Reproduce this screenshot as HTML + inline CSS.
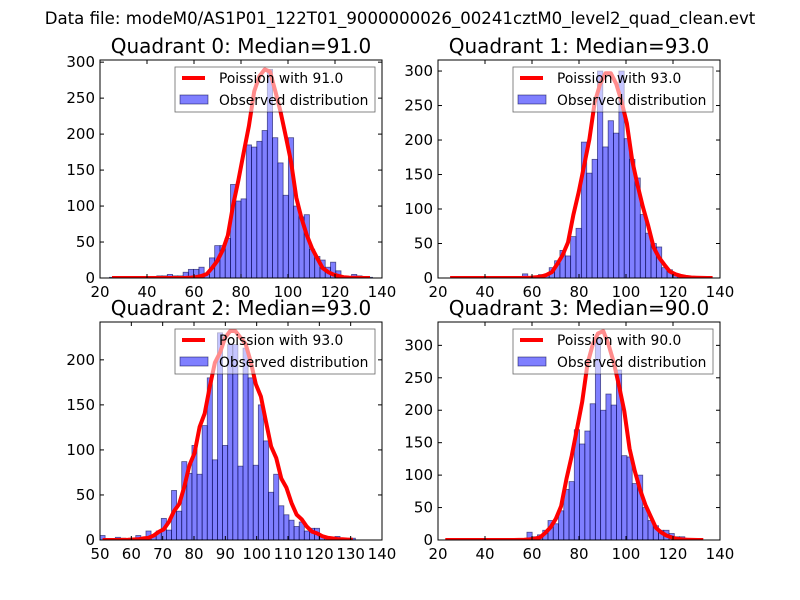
<!DOCTYPE html>
<html><head><meta charset="utf-8"><style>
body{margin:0;background:#fff;}
svg{display:block;font-family:"DejaVu Sans","Liberation Sans",sans-serif;}
</style></head><body>
<svg id="fig" width="800" height="600" viewBox="0 0 800 600">
<rect width="800" height="600" fill="#fff"/>
<text x="400" y="24" text-anchor="middle" font-size="16.6">Data file: modeM0/AS1P01_122T01_9000000026_00241cztM0_level2_quad_clean.evt</text>
</svg>
<script>
// ---- data ----
const quadNames = ["Quadrant 0: Median=91.0","Quadrant 1: Median=93.0","Quadrant 2: Median=93.0","Quadrant 3: Median=90.0"];
const poissonMeans = [91.0, 93.0, 93.0, 90.0];
const curvePeaks = [290, 300, 232, 322];
const binStarts = [24, 24, 50, 22];
const binWidths = [2.24, 2.28, 1.63, 2.24];
const countsQ0 = [1,1,0,0,0,0,0,0,1,3,3,5,3,3,8,12,12,15,5,28,45,45,55,130,107,110,185,182,190,205,290,195,160,115,195,100,85,88,40,30,25,15,22,10,2,0,5,3,1,1];
const countsQ1 = [0,0,0,0,0,0,0,0,1,0,1,0,0,0,6,0,1,5,5,15,25,40,32,60,72,197,152,172,300,190,228,210,300,202,172,145,92,65,50,45,15,12,5,2,1,0,0,0,0,0];
const countsQ2 = [5,0,0,3,2,0,0,5,2,10,5,10,24,11,55,32,87,74,105,73,127,180,89,230,105,217,217,82,213,180,83,150,110,53,73,38,28,22,15,20,10,13,13,5,3,0,4,2,0,2];
const countsQ3 = [0,0,0,0,0,0,0,0,0,0,0,0,2,2,0,0,12,5,8,15,30,25,45,78,90,170,148,168,210,310,200,225,208,262,130,128,87,100,50,30,22,15,15,10,5,5,1,1,0,0];
const allCounts = [countsQ0,countsQ1,countsQ2,countsQ3];
const xTickLabels = [[20,40,60,80,100,120,140],[20,40,60,80,100,120,140],[50,60,70,80,90,100,110,120,130,140],[20,40,60,80,100,120,140]];
const yTickLabels = [[0,50,100,150,200,250,300],[0,50,100,150,200,250,300],[0,50,100,150,200],[0,50,100,150,200,250,300]];
const xLimits = [[20,140],[20,140],[50,140],[20,140]];
const yMaxes = [303,316,242,336];
// ---- layout ----
const boxes = [{l:100,r:382,t:60,b:278},{l:438,r:720,t:60,b:278},{l:100,r:382,t:322,b:540},{l:438,r:720,t:322,b:540}];
const NS="http://www.w3.org/2000/svg";
const svg=document.getElementById('fig');
function mk(tag,attrs,parent){const e=document.createElementNS(NS,tag);for(const k in attrs)e.setAttribute(k,attrs[k]);(parent||svg).appendChild(e);return e;}
function lgam(x){
  if(x<7){let s=0;while(x<7){s-=Math.log(x);x+=1;}return s+lgam(x);}
  return (x-0.5)*Math.log(x)-x+0.5*Math.log(2*Math.PI)+1/(12*x)-1/(360*x*x*x);
}
function logPmf(k,mu){return k*Math.log(mu)-mu-lgam(k+1);}
for(let q=0;q<4;q++){
  const B=boxes[q],xl=xLimits[q],ym=yMaxes[q];
  const X=v=>B.l+(v-xl[0])/(xl[1]-xl[0])*(B.r-B.l);
  const Y=v=>B.b-v/ym*(B.b-B.t);
  const g=mk('g',{});
  
  
  const cp=mk('clipPath',{id:'cp'+q},g);mk('rect',{x:B.l,y:B.t,width:B.r-B.l,height:B.b-B.t},cp);
  const bars=mk('g',{'clip-path':'url(#cp'+q+')'},g);
  
  
  const counts=allCounts[q];
  counts.forEach((c,i)=>{
    const x0=binStarts[q]+i*binWidths[q],x1=x0+binWidths[q];
    const r=mk('rect',{x:X(x0),y:Y(c),width:X(x1)-X(x0),height:Math.max(0,Y(0)-Y(c)),fill:'rgba(0,0,255,0.5)',stroke:'rgba(0,0,64,0.6)','stroke-width':0.8},bars);
    
    
  });
  const mu=poissonMeans[q],pk=logPmf(Math.round(mu),mu);
  let d='';
  counts.forEach((c,i)=>{
    const xc=binStarts[q]+(i+0.5)*binWidths[q];
    const v=curvePeaks[q]*Math.exp(logPmf(Math.round(xc),mu)-pk);
    d+=(i?'L':'M')+X(xc).toFixed(1)+','+Y(v).toFixed(1);
  });
  const ln=mk('path',{d:d,fill:'none',stroke:'#ff0000','stroke-width':4,'stroke-linejoin':'round','clip-path':'url(#cp'+q+')'},g);
  
  
  const fr=mk('rect',{x:B.l,y:B.t,width:B.r-B.l,height:B.b-B.t,fill:'none',stroke:'#000','stroke-width':1},g);
  
  
  xTickLabels[q].forEach(v=>{
    const x=X(v);
    mk('line',{x1:x,x2:x,y1:B.b,y2:B.b-4,stroke:'#000'},g);
    mk('line',{x1:x,x2:x,y1:B.t,y2:B.t+4,stroke:'#000'},g);
    const t=mk('text',{x:x,y:B.b+19,'text-anchor':'middle','font-size':15},g);
    t.textContent=v;
    
    
  });
  yTickLabels[q].forEach(v=>{
    const y=Y(v);
    mk('line',{x1:B.l,x2:B.l+4,y1:y,y2:y,stroke:'#000'},g);
    mk('line',{x1:B.r,x2:B.r-4,y1:y,y2:y,stroke:'#000'},g);
    const t=mk('text',{x:B.l-5,y:y+5,'text-anchor':'end','font-size':15},g);
    t.textContent=v;
    
    
  });
  const tt=mk('text',{x:(B.l+B.r)/2,y:B.t-7,'text-anchor':'middle','font-size':20},g);
  tt.textContent=quadNames[q];
  
  
  const lg=mk('g',{},g);
  
  
  const lx=B.r-207,ly=B.t+7;
  mk('rect',{x:lx,y:ly,width:200,height:45,fill:'rgba(255,255,255,0.55)',stroke:'#000','stroke-width':0.8,'stroke-opacity':0.6},lg);
  mk('line',{x1:lx+7,x2:lx+30,y1:ly+11,y2:ly+11,stroke:'#ff0000','stroke-width':4},lg);
  const t1=mk('text',{x:lx+44,y:ly+16,'font-size':13.8},lg);t1.textContent='Poission with '+mu.toFixed(1);
  
  
  mk('rect',{x:lx+5,y:ly+28,width:28,height:9,fill:'rgba(0,0,255,0.5)',stroke:'rgba(0,0,64,0.6)','stroke-width':0.8},lg);
  const t2=mk('text',{x:lx+44,y:ly+38,'font-size':13.8},lg);t2.textContent='Observed distribution';
  
  
}
</script>
</body></html>
